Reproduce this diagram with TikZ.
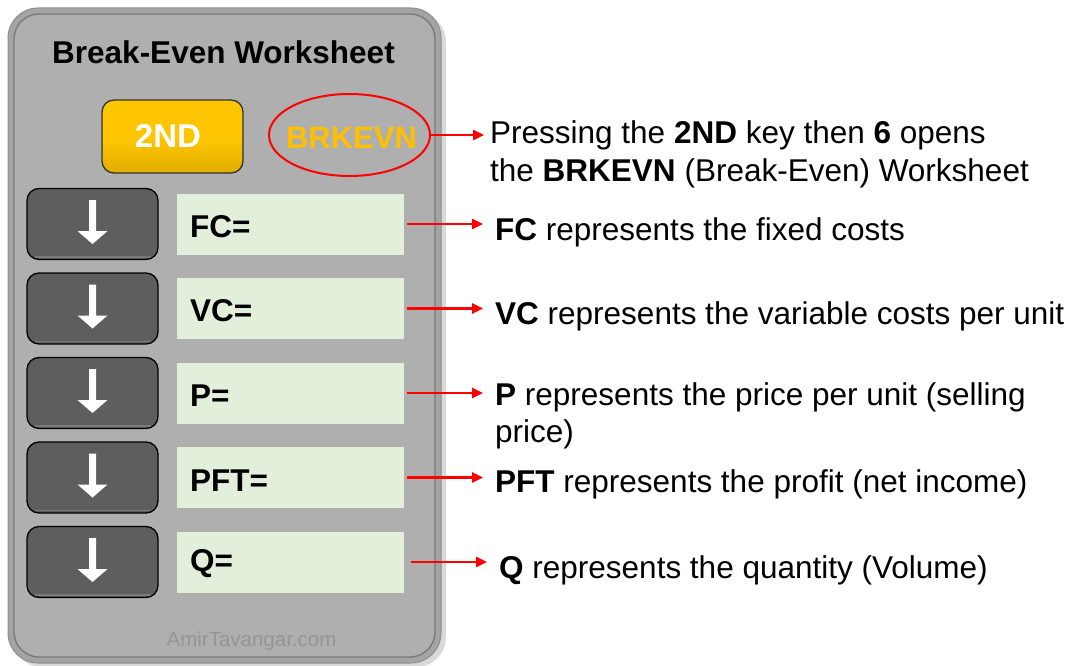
\documentclass[tikz,border=0pt]{standalone}
\usepackage{fontspec}
\setmainfont{Liberation Sans}
\usetikzlibrary{arrows.meta,shapes.geometric,calc}
\definecolor{panelface}{HTML}{AFAFAF}
\definecolor{panelring}{HTML}{A4A4A4}
\definecolor{ringedge}{HTML}{8E8E8E}
\definecolor{innerline}{HTML}{7A7A7A}
\definecolor{keygray}{HTML}{5E5E5E}
\definecolor{keyglow}{HTML}{7A7A7A}
\definecolor{fieldgreen}{HTML}{E2EFDA}
\definecolor{yelkey}{HTML}{FFC600}
\definecolor{brkorange}{HTML}{FFC000}
\definecolor{wmgray}{HTML}{959595}
\newcommand\bigtxt{\fontsize{31.5}{38}\selectfont}
\begin{document}
\begin{tikzpicture}[x=1pt,y=-1pt,
  keybox/.style={draw=black, line width=1.3pt, fill=keygray, rounded corners=12pt,
    minimum width=131pt, minimum height=71pt, inner sep=0pt},
  ndkey/.style={draw=black!80, line width=1.3pt, top color=yelkey, bottom color=yelkey!88!black,
    middle color=yelkey, rounded corners=12pt, minimum width=141pt, minimum height=73pt, inner sep=0pt},
  field/.style={fill=fieldgreen, minimum width=227pt, minimum height=61pt, inner sep=0pt},
  lbl/.style={anchor=base west, inner sep=0pt, font=\bigtxt\bfseries},
  desc/.style={anchor=base west, inner sep=0pt, font=\bigtxt},
  redarr/.style={draw=red, line width=2.5pt, -{Triangle[length=11pt,width=10pt]}}
]
\useasboundingbox (0,0) rectangle (1073,666);

% panel
\fill[black, opacity=0.15, rounded corners=30pt] (12,12) rectangle (446,667);
\draw[fill=panelring, draw=ringedge, line width=1pt, rounded corners=30pt] (8,8) rectangle (441,663);
\draw[fill=panelface, draw=innerline, line width=1.4pt, rounded corners=25pt] (14,14) rectangle (435,657);

% title
\node[anchor=base, inner sep=0pt, font=\bigtxt\bfseries] (title) at (223.5,64) {Break-Even Worksheet};

% 2ND key and BRKEVN
\node[ndkey] (nd) at (172.5,136.5) {};
\node[anchor=base, inner sep=0pt, text=white, font=\fontsize{33}{40}\selectfont\bfseries] (ndt) at (168,147) {2ND};
\node[ellipse, draw=red, line width=2pt, minimum width=161pt, minimum height=82pt, inner sep=0pt] (brk) at (349.5,135) {};
\node[anchor=base, inner sep=0pt, text=brkorange, font=\fontsize{31}{38}\selectfont\bfseries] (brkt) at (351.5,149) {BRKEVN};

% rows
\foreach \i/\y/\lab/\lb in {1/224/FC/237, 2/308.5/VC/321, 3/393/P/406, 4/477.5/PFT/491, 5/562/Q/571} {
  \node[keybox] (k\i) at (92.5,\y) {};
  \begin{scope}[shift={(k\i.center)}]
    \draw[keyglow, line width=1.2pt] (-58,33) -- (58,33);
    \fill[white] (-3.5,-24) -- (3.5,-24) -- (3.5,7) -- (15,7) -- (0,20) -- (-15,7) -- (-3.5,7) -- cycle;
  \end{scope}
  \node[field] (f\i) at (290.5,\y) {};
  \node[lbl] (l\i) at (190,\lb) {\lab=};
}

% watermark
\node[anchor=base, inner sep=0pt, text=wmgray, font=\fontsize{20.5}{24}\selectfont] (wm) at (251.5,646) {AmirTavangar.com};

% descriptions
\node[desc] (t0) at (490,143) {Pressing the \textbf{2ND} key then \textbf{6} opens};
\node[desc] (t0b) at (490,181) {the \textbf{BRKEVN} (Break-Even) Worksheet};
\node[desc] (t1) at (495,240) {\textbf{FC} represents the fixed costs};
\node[desc] (t2) at (495,324) {\textbf{VC} represents the variable costs per unit};
\node[desc] (t3) at (495,405) {\textbf{P} represents the price per unit (selling};
\node[desc] (t3b) at (495,442) {price)};
\node[desc] (t4) at (495,492) {\textbf{PFT} represents the profit (net income)};
\node[desc] (t5) at (499,578) {\textbf{Q} represents the quantity (Volume)};

% arrows
\draw[redarr, shorten >=6pt] (brk.east) -- (brk.east -| t0.west);
\foreach \i in {1,2,3,4} {
  \draw[redarr, shorten <=3pt, shorten >=12pt] (f\i.east) -- (f\i.east -| t\i.west);
}
\draw[redarr, shorten <=7pt, shorten >=12pt] (f5.east) -- (f5.east -| t5.west);
\end{tikzpicture}
\end{document}
